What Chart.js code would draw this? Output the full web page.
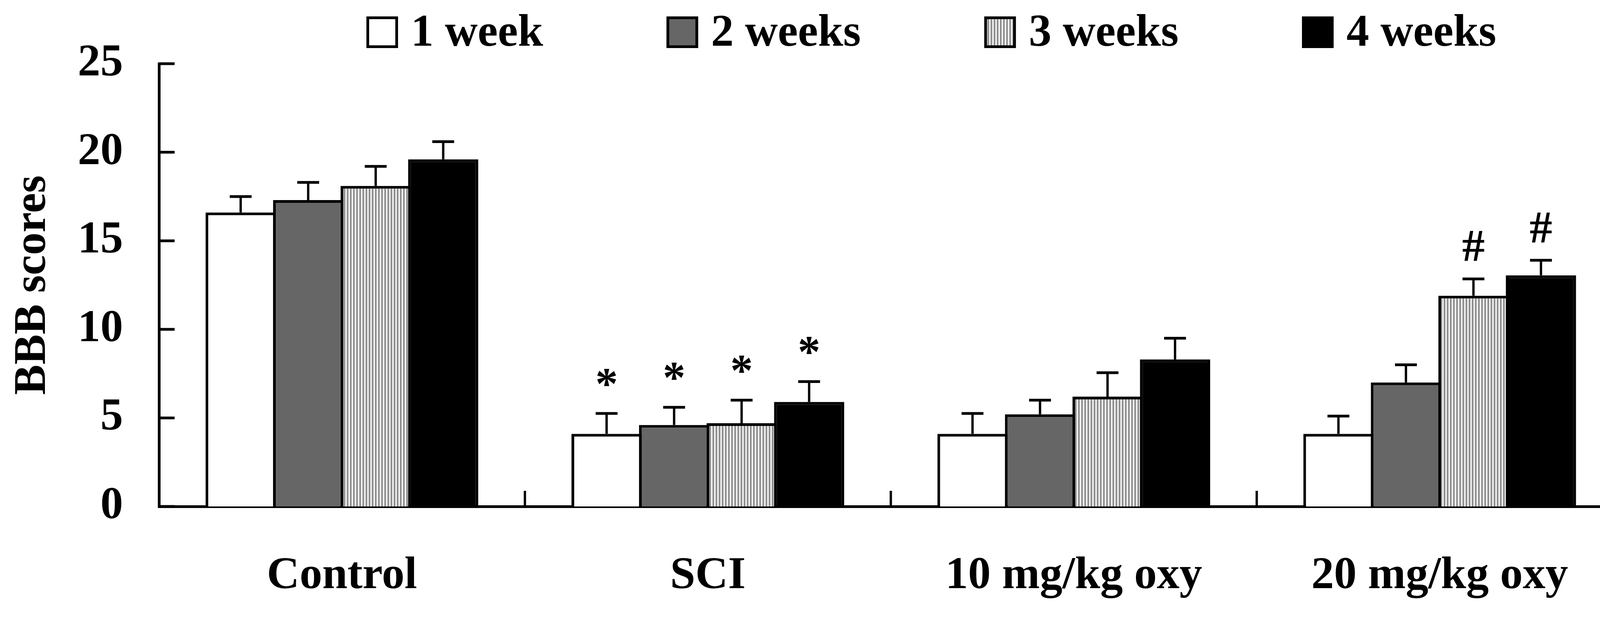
<!DOCTYPE html>
<html><head><meta charset="utf-8">
<script src="https://cdn.jsdelivr.net/npm/chart.js@4/dist/chart.umd.min.js"></script>
<style>html,body{margin:0;padding:0;background:#fff;overflow:hidden;width:4200px;height:1584px;} #wrap{width:4200px;height:1584px;overflow:hidden;} canvas{display:block;}</style>
</head><body><div id="wrap"><canvas id="c" width="4200" height="1584" style="width:4200px;height:1584px;"></canvas></div>
<script>
// ---- data ----
const categories = ['Control', 'SCI', '10 mg/kg oxy', '20 mg/kg oxy'];
const seriesLabels = ['1 week', '2 weeks', '3 weeks', '4 weeks'];
const week1 = [16.6, 4.1, 4.1, 4.1];
const week2 = [17.3, 4.6, 5.2, 7.0];
const week3 = [18.1, 4.7, 6.2, 11.9];
const week4 = [19.6, 5.9, 8.3, 13.05];
const err1 = [0.9, 1.15, 1.15, 1.0];
const err2 = [1.0, 1.0, 0.8, 1.0];
const err3 = [1.1, 1.3, 1.35, 0.95];
const err4 = [1.0, 1.15, 1.2, 0.85];
const marks1 = ['', '*', '', ''];
const marks2 = ['', '*', '', ''];
const marks3 = ['', '*', '', '#'];
const marks4 = ['', '*', '', '#'];
const yTicks = [0, 5, 10, 15, 20, 25];
const yTitle = 'BBB scores';

// ---- styles ----
const FAMILY = '"Liberation Serif", "Times New Roman", serif';
const FONT = 'bold 116px ' + FAMILY;
const MARK_GAP = { '*': 92, '#': 84 };

function stripePattern() {
  const c = document.createElement('canvas');
  c.width = 8; c.height = 8;
  const g = c.getContext('2d');
  g.fillStyle = '#f0f0f0'; g.fillRect(0, 0, 8, 8);
  g.fillStyle = '#8c8c8c'; g.fillRect(0, 0, 4, 8);
  return g.createPattern(c, 'repeat');
}
const fills = ['#ffffff', '#666666', stripePattern(), '#000000'];

const values = [week1, week2, week3, week4];
const errors = [err1, err2, err3, err4];
const marks = [marks1, marks2, marks3, marks4];

const datasets = seriesLabels.map((lab, i) => ({
  label: lab,
  data: values[i],
  errors: errors[i],
  marks: marks[i],
  backgroundColor: fills[i],
  borderColor: '#000000',
  borderWidth: 7,
  barPercentage: 1.04,
  categoryPercentage: 0.738
}));

const bgPlugin = {
  id: 'bg',
  beforeDraw(chart) {
    const ctx = chart.ctx;
    ctx.save(); ctx.fillStyle = '#fff'; ctx.fillRect(0, 0, chart.width, chart.height); ctx.restore();
  }
};

const extrasPlugin = {
  id: 'extras',
  afterDatasetsDraw(chart) {
    const ctx = chart.ctx;
    const xs = chart.scales.x, ys = chart.scales.y;
    ctx.save();
    ctx.strokeStyle = '#000'; ctx.fillStyle = '#000';
    chart.data.datasets.forEach((ds, di) => {
      const meta = chart.getDatasetMeta(di);
      meta.data.forEach((bar, j) => {
        const v = ds.data[j], e = ds.errors[j];
        const yTop = ys.getPixelForValue(v);
        const yCap = ys.getPixelForValue(v + e);
        ctx.lineWidth = 6;
        ctx.beginPath(); ctx.moveTo(bar.x, yTop); ctx.lineTo(bar.x, yCap); ctx.stroke();
        ctx.lineWidth = 7;
        ctx.beginPath(); ctx.moveTo(bar.x - 28, yCap); ctx.lineTo(bar.x + 28, yCap); ctx.stroke();
        const m = ds.marks[j];
        if (m) {
          ctx.font = FONT;
          ctx.textAlign = 'center'; ctx.textBaseline = 'alphabetic';
          const tm = ctx.measureText(m);
          const mid = (tm.actualBoundingBoxAscent - tm.actualBoundingBoxDescent) / 2;
          ctx.fillText(m, bar.x, yCap - MARK_GAP[m] + mid);
        }
      });
    });
    ctx.lineWidth = 7;
    yTicks.forEach(t => {
      const y = ys.getPixelForValue(t);
      ctx.beginPath(); ctx.moveTo(xs.left, y); ctx.lineTo(xs.left + 40, y); ctx.stroke();
    });
    ctx.lineWidth = 6;
    for (let i = 0; i < categories.length; i++) {
      const x = xs.getPixelForValue(i + 0.5);
      ctx.beginPath(); ctx.moveTo(x, ys.bottom); ctx.lineTo(x, ys.bottom - 40); ctx.stroke();
    }
    ctx.restore();
  }
};

const legendPlugin = {
  id: 'customLegend',
  afterDraw(chart) {
    const ctx = chart.ctx;
    ctx.save();
    ctx.font = FONT; ctx.textAlign = 'left'; ctx.textBaseline = 'alphabetic';
    let x = 938; const top = 42, box = 81;
    chart.data.datasets.forEach(ds => {
      ctx.fillStyle = ds.backgroundColor; ctx.fillRect(x, top, box, box);
      ctx.lineWidth = 7; ctx.strokeStyle = '#000';
      ctx.strokeRect(x + 3.5, top + 3.5, box - 7, box - 7);
      ctx.fillStyle = '#000';
      ctx.fillText(ds.label, x + box + 33, 117);
      x += box + 33 + ctx.measureText(ds.label).width + 316;
    });
    ctx.restore();
  }
};

new Chart(document.getElementById('c'), {
  type: 'bar',
  data: { labels: categories, datasets },
  options: {
    responsive: false,
    devicePixelRatio: 1,
    animation: false,
    layout: { padding: { top: 163, right: 46, bottom: 0, left: 0 } },
    plugins: { legend: { display: false }, tooltip: { enabled: false } },
    scales: {
      x: {
        grid: { display: false, drawTicks: false },
        border: { display: true, color: '#000', width: 7 },
        ticks: { color: '#000', font: { family: FAMILY, size: 116, weight: 'bold', lineHeight: 1.2 }, padding: 109, maxRotation: 0, autoSkip: false },
        afterFit(s) { s.height = 288; }
      },
      y: {
        min: 0, max: 25,
        afterBuildTicks(s) { s.ticks = yTicks.map(v => ({ value: v })); },
        grid: { display: false, drawTicks: false },
        border: { display: true, color: '#000', width: 7 },
        ticks: { color: '#000', font: { family: FAMILY, size: 116, weight: 'bold' }, padding: 92 },
        title: { display: true, text: yTitle, color: '#000', font: { family: FAMILY, size: 116, weight: 'bold', lineHeight: 1.2 }, padding: { top: 15, bottom: 0 } },
        afterFit(s) { s.width = 407; }
      }
    }
  },
  plugins: [bgPlugin, extrasPlugin, legendPlugin]
});
</script>
</body></html>
